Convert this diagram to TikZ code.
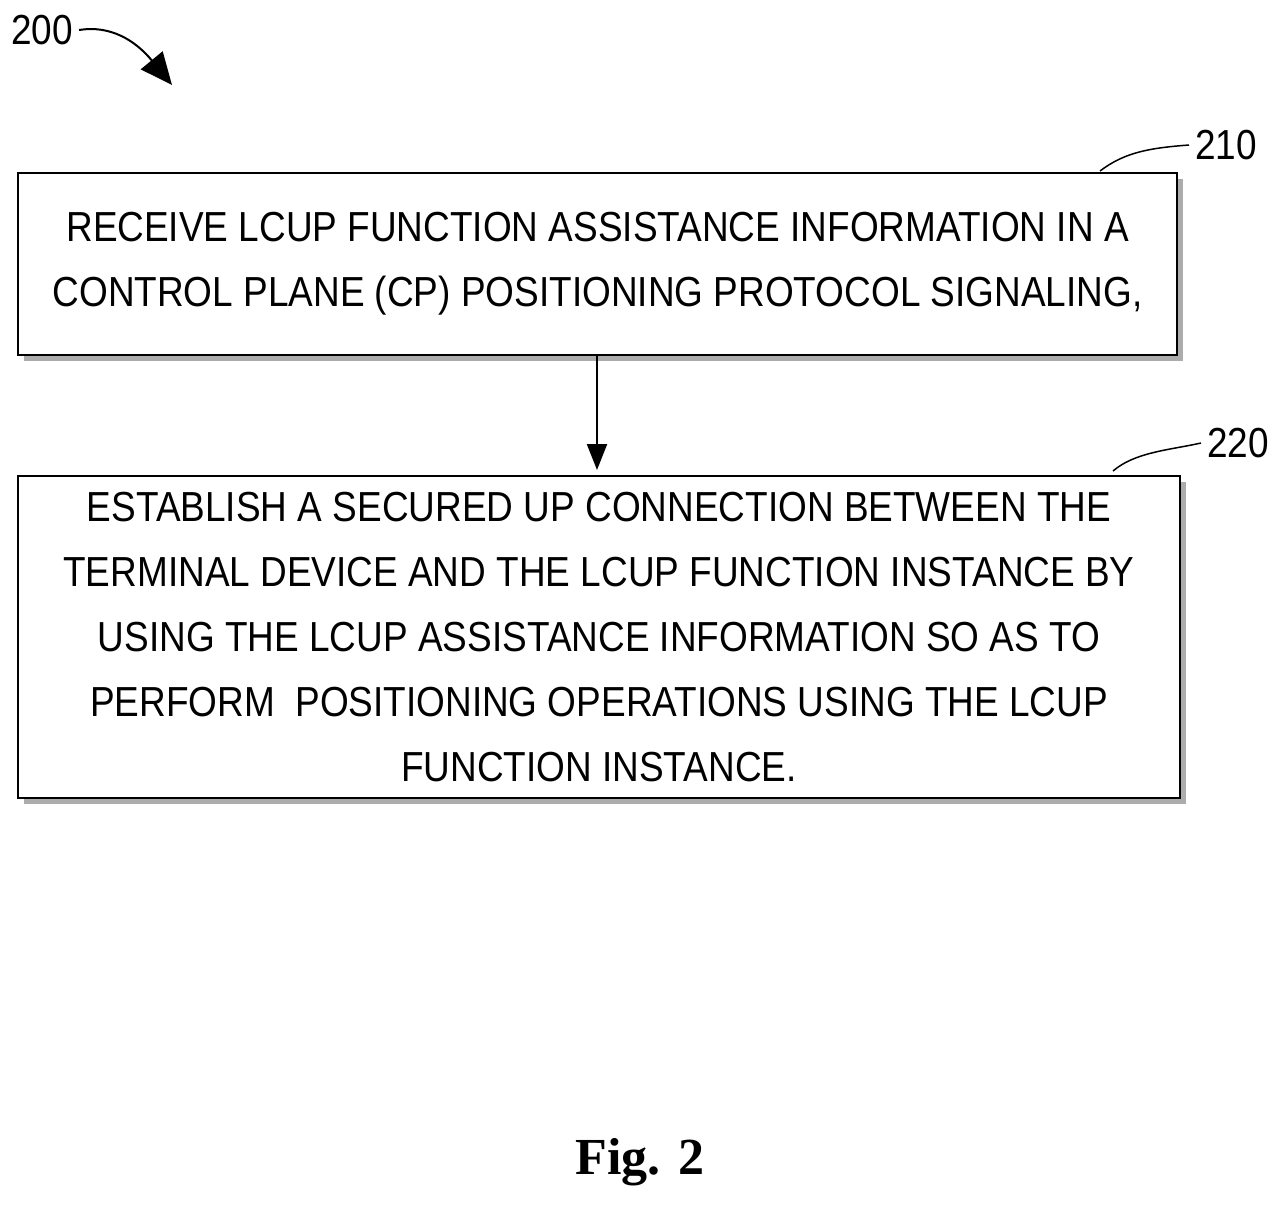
\documentclass[tikz,border=0pt]{standalone}
\usepackage{fontspec}
\setmainfont{Liberation Sans}
\newfontfamily\nar[FakeStretch=0.88]{Liberation Sans}
\newfontfamily\ser{Liberation Serif}
\usetikzlibrary{arrows.meta}
\begin{document}
\begin{tikzpicture}[x=1pt,y=-1pt,
 box/.style={draw=black,line width=2.2pt,fill=white,align=center,inner sep=0pt,
   font=\nar\fontsize{42}{65}\selectfont},
 lbl/.style={font=\nar\fontsize{42}{48}\selectfont,inner sep=6pt}]
\useasboundingbox (0,0) rectangle (1273,1204);
\fill[gray!65] (24,179) rectangle (1183,361);
\fill[gray!65] (24,482) rectangle (1186,804);
\node[box,minimum width=1159pt,minimum height=182pt] (b1) at (597.5,264) {RECEIVE LCUP FUNCTION ASSISTANCE INFORMATION IN A\\CONTROL PLANE (CP) POSITIONING PROTOCOL SIGNALING,};
\node[box,minimum width=1162pt,minimum height=322pt] (b2) at (599,637) {ESTABLISH A SECURED UP CONNECTION BETWEEN THE\\TERMINAL DEVICE AND THE LCUP FUNCTION INSTANCE BY\\USING THE LCUP ASSISTANCE INFORMATION SO AS TO\\PERFORM\ \ POSITIONING OPERATIONS USING THE LCUP\\FUNCTION INSTANCE.};
\draw[line width=2.2pt,-{Triangle[length=26pt,width=20pt]}] (b1.south -| 597,0) -- (597,470) coordinate (e1);
\node[lbl] (l210) at (1226,145) {210};
\node[lbl] (l220) at (1238,443) {220};
\node[lbl] (l200) at (42,30) {200};
\draw[line width=1.5pt] (1100,171) .. controls (1125,152) and (1150,148) .. (l210.west);
\draw[line width=1.5pt] (1113,471) .. controls (1135,452) and (1170,450) .. (l220.west);
\draw[line width=2pt,-{Triangle[length=32pt,width=28pt]}] (l200.east) .. controls (110,25) and (135,40) .. (172,85);
\node[font=\ser\bfseries\fontsize{52}{60}\selectfont] (fig) at (640,1162) {Fig. 2};
\end{tikzpicture}
\end{document}
